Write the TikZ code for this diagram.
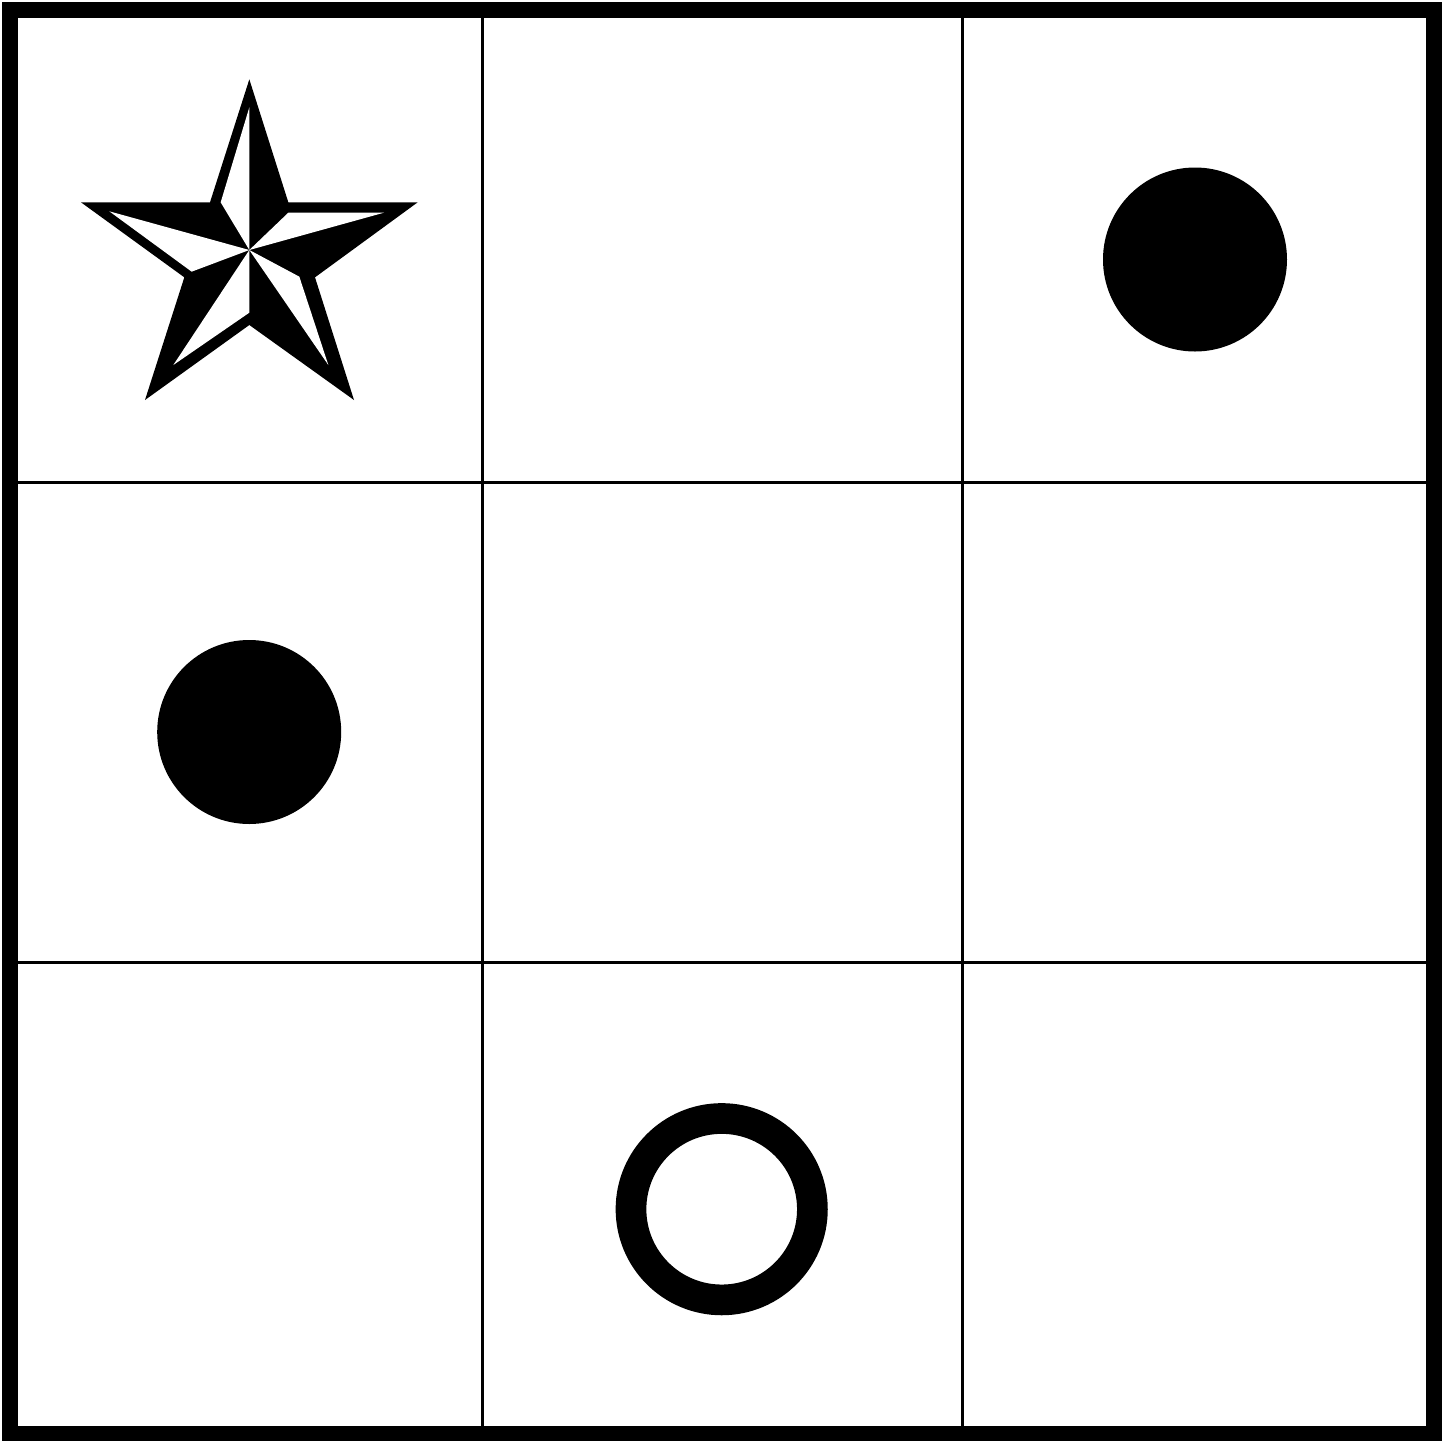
\documentclass[tikz,border=0pt]{standalone}
\begin{document}
\begin{tikzpicture}[x=0.5pt,y=-0.5pt,
  frame/.style={draw=black,line width=8pt},
  gridline/.style={draw=black,line width=1.5pt},
  dot/.style={fill=black},
  ring/.style={draw=black,line width=15.35pt},
  starblack/.style={fill=black},
  starwhite/.style={fill=white}]
\useasboundingbox (0,0) rectangle (1442,1441);
\fill[white] (0,0) rectangle (1442,1441);
% grid
\draw[gridline] (482.5,9.7) -- (482.5,1433.5);
\draw[gridline] (962.5,9.7) -- (962.5,1433.5);
\draw[gridline] (9.7,482.5) -- (1434,482.5);
\draw[gridline] (9.7,962.5) -- (1434,962.5);
\draw[frame] (9.7,9.7) rectangle (1434,1433.5);
% star
\coordinate (C) at (249.33,250);
\fill[starblack] (249.33,79.33) -- (288.33,202.33) -- (417.67,202.33) -- (315,277.33)
  -- (354,400) -- (249.33,325) -- (145,400) -- (184.33,277.33) -- (81,202.33)
  -- (210,202.33) -- cycle;
\fill[starwhite] (249.33,107.33) -- (220.67,202.33) -- (C) -- cycle;
\fill[starwhite] (384,212.67) -- (288.33,212.67) -- (C) -- cycle;
\fill[starwhite] (328.33,365) -- (299.33,276.67) -- (C) -- cycle;
\fill[starwhite] (173.33,365) -- (249.33,312.67) -- (C) -- cycle;
\fill[starwhite] (109.33,211.33) -- (191.67,271.67) -- (C) -- cycle;
% dots
\fill[dot] (1195,259.5) circle (92);
\fill[dot] (249.2,732) circle (92);
\draw[ring] (721.7,1209.2) circle (90.7);
\end{tikzpicture}
\end{document}
